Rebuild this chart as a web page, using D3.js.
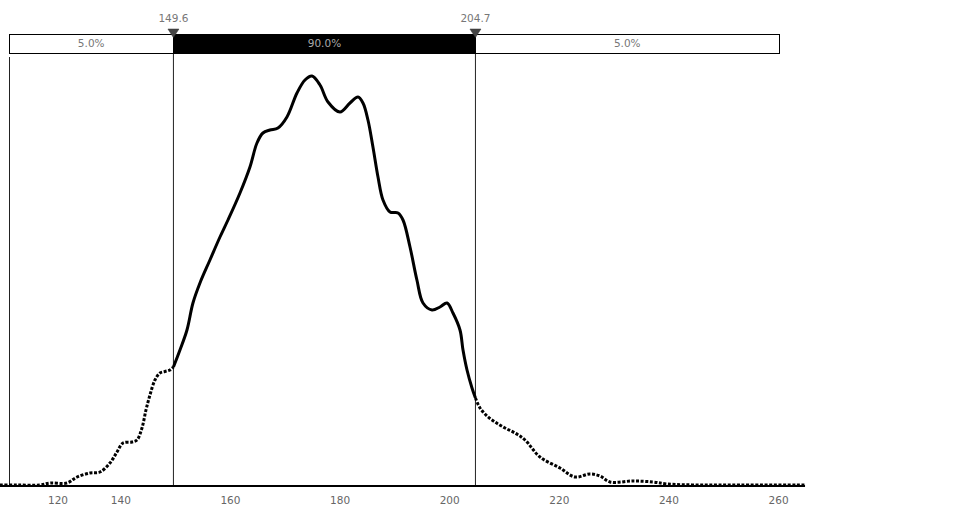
<!DOCTYPE html>
<html>
<head>
<meta charset="utf-8">
<script src="https://cdn.jsdelivr.net/npm/d3@7"></script>
<style>
  html, body { margin: 0; padding: 0; background: #fff; }
  svg { display: block; font-family: "DejaVu Sans", sans-serif; }
</style>
</head>
<body>
<svg id="chart" width="960" height="521"></svg>
<script>
// ---- data ----
const xValues = [117.95, 121.05, 125.25, 127.08, 130.18, 132.0, 134.37, 136.2, 138.02, 139.3, 140.4, 142.04, 142.95, 143.86, 144.59, 145.32, 146.23, 147.14, 148.05, 148.96, 149.6,
  150.79, 152.07, 153.16, 154.44, 156.26, 158.09, 159.55, 161.74, 163.56, 164.84, 165.93, 167.21, 168.67, 170.31, 172.14, 173.6, 174.88, 176.34, 177.8, 179.99, 181.81, 183.27, 184.18, 185.09, 186.0, 186.92, 187.83, 189.11, 190.57, 191.48, 192.76, 194.02, 195.13, 196.77, 198.23, 199.51, 200.6, 201.88, 202.43, 203.16, 204.07, 204.7,
  205.53, 206.81, 208.27, 210.09, 211.91, 213.74, 216.47, 220.12, 222.86, 225.6, 227.43, 229.25, 233.44, 237.09, 239.65, 245.67, 252.97, 264.83];
const density = [1, 1, 1, 3, 3, 9, 13, 14, 23, 34, 43, 44, 46, 58, 76, 91, 106, 113, 114.5, 116, 119,
  136, 156, 183, 203, 226, 249, 266, 293, 319, 343, 353, 356, 358, 369, 393, 406, 410, 401, 384, 374, 383, 389, 383, 366, 339, 309, 286, 274, 273, 266, 239, 206, 183, 176, 179, 183, 173, 156, 136, 116, 98, 88,
  78, 70, 64, 58, 53, 46, 29, 18, 9, 12, 10, 4, 5, 4, 2, 1, 1, 1];
const cutoffs = [149.6, 204.7];
const cutoffLabels = ["149.6", "204.7"];
const bandLabels = ["5.0%", "90.0%", "5.0%"];
const tickValues = [120, 140, 160, 180, 200, 220, 240, 260];
const tickLabels = ["120", "140", "160", "180", "200", "220", "240", "260"];
const plotDomain = [119.6, 260.08];

// ---- layout ----
const svg = d3.select("#chart");
const x = d3.scaleLinear().domain(plotDomain).range([9, 779]);
const y = d3.scaleLinear().domain([0, 429]).range([486, 57]);
const barTop = 34.5, barBottom = 53.5;

const pts = xValues.map((v, i) => ({ v, d: density[i] }));
const line = d3.line().x(p => x(p.v)).y(p => y(p.d)).curve(d3.curveCatmullRom.alpha(0.5));

// left plot edge line
svg.append("line")
  .attr("x1", x(plotDomain[0]) + 0.5).attr("x2", x(plotDomain[0]) + 0.5)
  .attr("y1", 57).attr("y2", y(0))
  .attr("stroke", "#222").attr("stroke-width", 1);

// cutoff vertical lines
cutoffs.forEach(c => {
  svg.append("line")
    .attr("x1", x(c)).attr("x2", x(c))
    .attr("y1", barBottom).attr("y2", y(0))
    .attr("stroke", "#222").attr("stroke-width", 1);
});

// curves: tails dashed, middle solid
const lowTail = pts.filter(p => p.v <= cutoffs[0]);
const mid = pts.filter(p => p.v >= cutoffs[0] && p.v <= cutoffs[1]);
const highTail = pts.filter(p => p.v >= cutoffs[1]);

[lowTail, highTail].forEach(seg => {
  svg.append("path").datum(seg)
    .attr("d", line).attr("fill", "none")
    .attr("stroke", "#000").attr("stroke-width", 3)
    .attr("stroke-dasharray", "3,1.6");
});
svg.append("path").datum(mid)
  .attr("d", line).attr("fill", "none")
  .attr("stroke", "#000").attr("stroke-width", 3)
  .attr("stroke-linejoin", "round");

// x axis baseline
svg.append("line")
  .attr("x1", x(xValues[0])).attr("x2", x(xValues[xValues.length - 1]))
  .attr("y1", y(0)).attr("y2", y(0))
  .attr("stroke", "#000").attr("stroke-width", 2);

// tick labels
svg.append("g").selectAll("text").data(tickValues).join("text")
  .attr("x", (v) => Math.max(x(v), 58))
  .attr("y", 504)
  .attr("text-anchor", "middle")
  .attr("font-size", "10.5px")
  .attr("fill", "#666")
  .text((v, i) => tickLabels[i]);

// top band bar
const edges = [plotDomain[0], ...cutoffs, plotDomain[1]];
const bands = bandLabels.map((lab, i) => ({ lab, a: edges[i], b: edges[i + 1], dark: i === 1 }));
svg.append("g").selectAll("rect").data(bands).join("rect")
  .attr("x", b => Math.round(x(b.a)) + 0.5)
  .attr("y", barTop)
  .attr("width", b => Math.round(x(b.b)) - Math.round(x(b.a)))
  .attr("height", barBottom - barTop)
  .attr("fill", b => b.dark ? "#000" : "#fff")
  .attr("stroke", "#000").attr("stroke-width", 1);
svg.append("g").selectAll("text").data(bands).join("text")
  .attr("x", b => (x(b.a) + x(b.b)) / 2)
  .attr("y", 46.5)
  .attr("text-anchor", "middle")
  .attr("font-size", "10.5px")
  .attr("fill", b => b.dark ? "#aaa" : "#777")
  .text(b => b.lab);

// cutoff markers and labels
cutoffs.forEach((c, i) => {
  const cx = x(c);
  svg.append("path")
    .attr("d", `M${cx - 5.5},29 L${cx + 5.5},29 L${cx},37.5 Z`)
    .attr("fill", "#444").attr("stroke", "#333").attr("stroke-width", 0.5);
  svg.append("text")
    .attr("x", cx).attr("y", 22)
    .attr("text-anchor", "middle")
    .attr("font-size", "10.5px")
    .attr("fill", "#777")
    .text(cutoffLabels[i]);
});
</script>
</body>
</html>
